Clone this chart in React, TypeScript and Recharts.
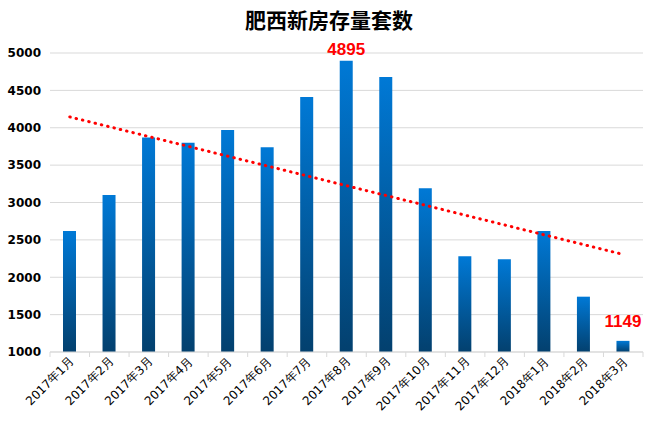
import React from 'react';
import { ComposedChart, Bar, Line, XAxis, YAxis, CartesianGrid, LabelList } from 'recharts';

const months = [
  '2017年1月', '2017年2月', '2017年3月', '2017年4月', '2017年5月', '2017年6月', '2017年7月', '2017年8月',
  '2017年9月', '2017年10月', '2017年11月', '2017年12月', '2018年1月', '2018年2月', '2018年3月',
];
const stock = [2620, 3100, 3870, 3800, 3970, 3740, 4410, 4895, 4680, 3190, 2280, 2240, 2620, 1740, 1149];
// trend line at its two ends
const trend = [4145, null, null, null, null, null, null, null, null, null, null, null, null, null, 2305];
const yTicks = [1000, 1500, 2000, 2500, 3000, 3500, 4000, 4500, 5000];
const labeled = ['2017年8月', '2018年3月'];

const data = months.map((m, i) => ({ month: m, stock: stock[i], trend: trend[i] }));

const W = 658;
const H = 434;
const M = { top: 53, right: 15, bottom: 0, left: 0 };
const Y_W = 50;
const X_H = 82;
const band = (W - M.left - M.right - Y_W) / months.length;

const XTick = (props: any) => {
  const { x, y, payload, index } = props;
  const off = payload && typeof payload.offset === 'number' && payload.offset > 0 ? payload.offset : band / 2;
  return (
    <g>
      <line x1={x - off} x2={x - off} y1={y} y2={y + 5} stroke="#d9d9d9" />
      {index === months.length - 1 && (
        <line x1={x + off} x2={x + off} y1={y} y2={y + 5} stroke="#d9d9d9" />
      )}
      <text
        x={x + 5}
        y={y + 10}
        transform={`rotate(-45 ${x + 5} ${y + 10})`}
        textAnchor="end"
        fontSize={12}
        fontFamily="'DejaVu Sans', sans-serif"
        fill="#000"
      >
        {payload.value}
      </text>
    </g>
  );
};

const ValueLabel = (props: any) => {
  const { x, y, width, value, index } = props;
  if (!labeled.includes(months[index])) return null;
  const gap = index === months.length - 1 ? 14 : 6;
  return (
    <text
      x={x + width / 2}
      y={y - gap}
      textAnchor="middle"
      fontSize={17}
      fontWeight="bold"
      fontFamily="'Liberation Sans', Arial, sans-serif"
      fill="#ff0000"
    >
      {value}
    </text>
  );
};

export default function App() {
  return (
    <div style={{ width: W, height: H, background: '#fff', position: 'relative' }}>
      <style>{'body{margin:0}'}</style>
      <div
        style={{
          position: 'absolute',
          top: 5,
          left: 0,
          width: W,
          textAlign: 'center',
          fontFamily: "'Noto Sans CJK SC', sans-serif",
          fontWeight: 'bold',
          fontSize: 21,
          color: '#000',
          lineHeight: '28px',
        }}
      >
        肥西新房存量套数
      </div>
      <ComposedChart width={W} height={H} data={data} margin={M}>
        <defs>
          <linearGradient id="barFill" x1="0" y1="0" x2="0" y2="1">
            <stop offset="0%" stopColor="#0079d6" />
            <stop offset="100%" stopColor="#03406e" />
          </linearGradient>
        </defs>
        <CartesianGrid vertical={false} stroke="#d9d9d9" />
        <XAxis
          dataKey="month"
          height={X_H}
          interval={0}
          tickSize={0}
          tickMargin={0}
          tickLine={false}
          axisLine={{ stroke: '#d9d9d9' }}
          tick={<XTick />}
        />
        <YAxis
          width={Y_W}
          domain={[1000, 5000]}
          ticks={yTicks}
          interval={0}
          axisLine={false}
          tickLine={false}
          tickMargin={3}
          tick={{ fontSize: 12, fontWeight: 'bold', fill: '#000', fontFamily: "'DejaVu Sans', sans-serif" }}
        />
        <Bar dataKey="stock" barSize={13} fill="url(#barFill)" isAnimationActive={false}>
          <LabelList dataKey="stock" content={<ValueLabel />} />
        </Bar>
        <Line
          dataKey="trend"
          connectNulls
          dot={false}
          stroke="#ff0000"
          strokeWidth={3}
          strokeDasharray="0.5 6"
          strokeLinecap="round"
          isAnimationActive={false}
        />
      </ComposedChart>
    </div>
  );
}
